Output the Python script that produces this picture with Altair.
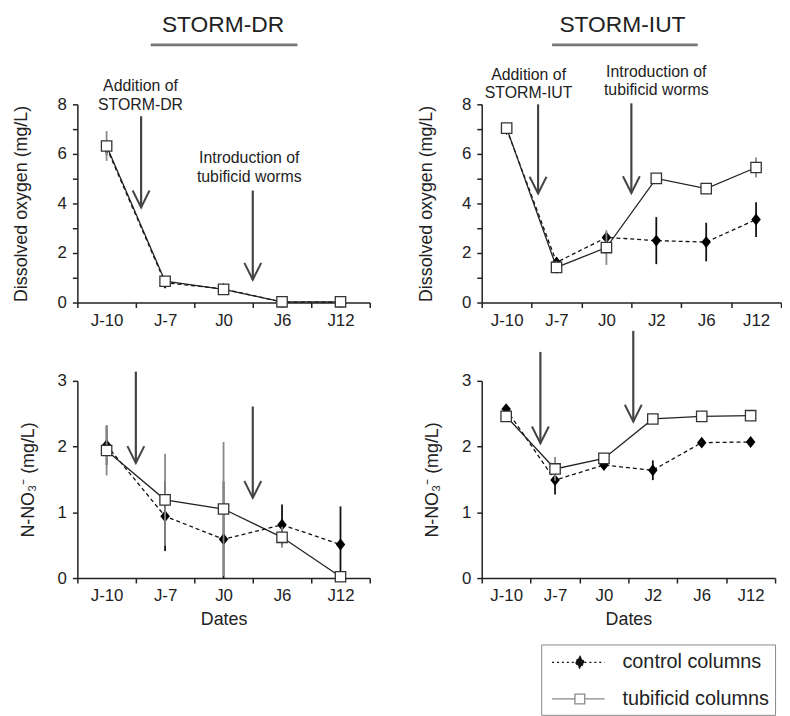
import altair as alt
import pandas as pd

FONT = "Liberation Sans"
INK = "#222222"

# ---------------- data ----------------
dates_dr = ["J-10", "J-7", "J0", "J6", "J12"]
dates_iut = ["J-10", "J-7", "J0", "J2", "J6", "J12"]
series_names = ["control columns", "tubificid columns"]

# Dissolved oxygen (mg/L)
do_dr_control = [6.25, 0.80, 0.55, 0.02, 0.02]
do_dr_control_err = [0.30, 0.10, 0.05, 0.00, 0.00]
do_dr_tubificid = [6.32, 0.86, 0.53, 0.03, 0.03]
do_dr_tubificid_err = [0.60, 0.15, 0.08, 0.00, 0.00]

do_iut_control = [7.00, 1.62, 2.63, 2.50, 2.44, 3.35]
do_iut_control_err = [0.10, 0.15, 0.10, 0.95, 0.78, 0.70]
do_iut_tubificid = [7.04, 1.42, 2.22, 5.01, 4.60, 5.45]
do_iut_tubificid_err = [0.15, 0.25, 0.70, 0.10, 0.08, 0.40]

# N-NO3- (mg/L)
no3_dr_control = [2.02, 0.94, 0.59, 0.81, 0.51]
no3_dr_control_err = [0.30, 0.53, 0.88, 0.31, 0.58]
no3_dr_tubificid = [1.94, 1.19, 1.05, 0.62, 0.02]
no3_dr_tubificid_err = [0.38, 0.70, 1.02, 0.16, 0.00]

no3_iut_control = [2.57, 1.49, 1.72, 1.64, 2.06, 2.07]
no3_iut_control_err = [0.05, 0.22, 0.05, 0.15, 0.03, 0.03]
no3_iut_tubificid = [2.46, 1.66, 1.82, 2.42, 2.46, 2.47]
no3_iut_tubificid_err = [0.05, 0.18, 0.03, 0.04, 0.03, 0.07]

# arrows: (date band, fraction across band, top, tip) in data units
arrows_do_dr = [("J-7", 0.09, 7.52, 3.84), ("J6", 0.0, 4.52, 0.92)]
arrows_do_iut = [("J-7", 0.13, 8.00, 4.40), ("J2", 0.0, 8.04, 4.42)]
arrows_no3_dr = [("J-7", 0.0, 3.14, 1.75), ("J6", 0.0, 2.61, 1.22)]
arrows_no3_iut = [("J-7", 0.2, 3.44, 2.05), ("J2", 0.1, 3.76, 2.38)]

# notes: (date band, fraction across band, y of first line, text)
notes_do_dr = [("J-7", 0.08, 8.72, "Addition of\nSTORM-DR"),
               ("J0", 0.94, 5.84, "Introduction of\ntubificid worms")]
notes_do_iut = [("J-10", 0.94, 9.20, "Addition of\nSTORM-IUT"),
                ("J2", 0.5, 9.32, "Introduction of\ntubificid worms")]

DIAMOND = "M 0 -1 L 0.8 0 L 0 1 L -0.8 0 Z"
ARROWHEAD = "M -0.5 -1 L 0 0 L 0.5 -1"
LEG_CTRL = ("M -0.64 0 L 1.49 0 M 2.33 0 L 4.18 0 "
            "M 1.91 -0.55 L 2.33 0 L 1.91 0.55 L 1.49 0 Z")
LEG_TUB = ("M -0.64 0 L 1.46 0 M 2.36 0 L 4.18 0 "
           "M 1.46 -0.45 L 2.36 -0.45 L 2.36 0.45 L 1.46 0.45 Z")


def panel(dates, ctrl, ctrl_err, tub, tub_err, ymax, ystep, ytitle, ytitle_pad,
          width, height, xtitle, arrows, notes, title=None, title_x=0,
          ul=(0, 0), legend=None):
    rows = []
    for name, vals, errs in [(series_names[0], ctrl, ctrl_err),
                             (series_names[1], tub, tub_err)]:
        for d, v, e in zip(dates, vals, errs):
            rows.append({"date": d, "series": name, "value": v,
                         "lo": max(v - e, 0.0), "hi": v + e})
    df = pd.DataFrame(rows)
    ctrl_df = df[df.series == series_names[0]]
    tub_df = df[df.series == series_names[1]]

    xscale = alt.Scale(type="band", domain=dates, paddingInner=0, paddingOuter=0)
    xaxis = alt.Axis(title=xtitle, tickBand="extent", labelAngle=0, tickSize=5,
                     labelPadding=5, labelFontSize=17, titleFontSize=18,
                     titlePadding=7, titleFontWeight="normal", grid=False,
                     domainWidth=1.5, tickWidth=1.5)
    yvals = [round(i * ystep, 2) for i in range(int(round(ymax / ystep)) + 1)]
    lab_every = 2 if ymax > 4 else 1
    yscale = alt.Scale(domain=[0, ymax], nice=False, zero=True)
    yaxis = alt.Axis(title=ytitle, values=yvals, format="d",
                     labelExpr=f"datum.value % {lab_every} === 0 ? datum.label : ''",
                     tickSize=5, labelPadding=6, labelFontSize=17, titleFontSize=18,
                     titlePadding=ytitle_pad, titleFontWeight="normal", grid=False,
                     domainWidth=1.5, tickWidth=1.5)

    def X(bp=0.5):
        return alt.X("date:N", scale=xscale, axis=xaxis, bandPosition=bp)

    def Y(field):
        return alt.Y(f"{field}:Q", scale=yscale, axis=yaxis)

    layers = []
    # control columns
    layers.append(alt.Chart(ctrl_df).mark_rule(color="#111", strokeWidth=1.8)
                  .encode(x=X(), y=Y("lo"), y2="hi:Q"))
    layers.append(alt.Chart(ctrl_df).mark_line(color="#111", strokeWidth=1.3,
                                               strokeDash=[4, 3])
                  .encode(x=X(), y=Y("value")))
    layers.append(alt.Chart(ctrl_df).mark_point(shape=DIAMOND, filled=True,
                                                color="#000", size=144, opacity=1)
                  .encode(x=X(), y=Y("value")))
    # tubificid columns
    layers.append(alt.Chart(tub_df).mark_rule(color="#888", strokeWidth=1.8)
                  .encode(x=X(), y=Y("lo"), y2="hi:Q"))
    layers.append(alt.Chart(tub_df).mark_line(color=INK, strokeWidth=1.3)
                  .encode(x=X(), y=Y("value")))
    layers.append(alt.Chart(tub_df).mark_point(shape="square", filled=True,
                                               fill="white", stroke="#333",
                                               strokeWidth=1.3, size=110, opacity=1)
                  .encode(x=X(), y=Y("value")))
    # arrows
    for d, bp, top, tip in arrows:
        adf = pd.DataFrame({"date": [d], "top": [top], "tip": [tip]})
        layers.append(alt.Chart(adf).mark_rule(color="#444", strokeWidth=2.2)
                      .encode(x=X(bp), y=Y("top"), y2="tip:Q"))
        layers.append(alt.Chart(adf).mark_point(shape=ARROWHEAD, filled=False,
                                                stroke="#444", strokeWidth=2,
                                                size=1156, opacity=1)
                      .encode(x=X(bp), y=Y("tip")))
    # notes
    for d, bp, yy, txt in notes:
        ndf = pd.DataFrame({"date": [d], "y": [yy], "txt": [txt]})
        layers.append(alt.Chart(ndf).mark_text(lineBreak="\n", align="center",
                                               baseline="middle", fontSize=16,
                                               lineHeight=19, font=FONT, color=INK)
                      .encode(x=X(bp), y=Y("y"), text="txt:N"))
    # panel heading with underline
    if title:
        tdf = pd.DataFrame({"t": [title]})
        layers.append(alt.Chart(tdf).mark_text(fontSize=23, font=FONT, color=INK,
                                               align="center", baseline="middle")
                      .encode(x=alt.value(title_x), y=alt.value(-80), text="t:N"))
        layers.append(alt.Chart(tdf).mark_rule(color="#777", strokeWidth=3)
                      .encode(x=alt.value(ul[0]), x2=alt.value(ul[1]),
                              y=alt.value(-60)))
    if legend is not None:
        leg = alt.Legend(orient="none", legendX=legend[0], legendY=legend[1],
                         title=None, symbolSize=484, symbolStrokeWidth=1.3,
                         labelFont=FONT, labelFontSize=20, labelColor=INK,
                         labelOffset=52, rowPadding=15, padding=6,
                         strokeColor="#888", symbolOpacity=1, labelLimit=0)
        layers.append(alt.Chart(df).mark_point(filled=True, opacity=0)
                      .encode(x=X(), y=Y("value"),
                              shape=alt.Shape("series:N", legend=leg,
                                              scale=alt.Scale(domain=series_names,
                                                              range=[LEG_CTRL, LEG_TUB])),
                              fill=alt.Fill("series:N", legend=leg,
                                            scale=alt.Scale(domain=series_names,
                                                            range=["#111", "white"])),
                              stroke=alt.Stroke("series:N", legend=leg,
                                                scale=alt.Scale(domain=series_names,
                                                                range=["#111", "#888"])),
                              strokeDash=alt.StrokeDash("series:N", legend=leg,
                                                        scale=alt.Scale(domain=series_names,
                                                                        range=[[2, 3], [1, 0]]))))
    return alt.layer(*layers).properties(width=width, height=height)


tl = panel(dates_dr, do_dr_control, do_dr_control_err, do_dr_tubificid,
           do_dr_tubificid_err, 8, 1, "Dissolved oxygen (mg/L)", 26.5, 295, 200,
           None, arrows_do_dr, notes_do_dr, "STORM-DR", 147, (74, 222))
tr = panel(dates_iut, do_iut_control, do_iut_control_err, do_iut_tubificid,
           do_iut_tubificid_err, 8, 1, "Dissolved oxygen (mg/L)", 26.5, 302, 200,
           None, arrows_do_iut, notes_do_iut, "STORM-IUT", 142, (71, 218))
bl = panel(dates_dr, no3_dr_control, no3_dr_control_err, no3_dr_tubificid,
           no3_dr_tubificid_err, 3, 0.5, "N-NO₃⁻ (mg/L)", 20, 295, 199,
           "Dates", arrows_no3_dr, [])
br = panel(dates_iut, no3_iut_control, no3_iut_control_err, no3_iut_tubificid,
           no3_iut_tubificid_err, 3, 0.5, "N-NO₃⁻ (mg/L)", 20, 296, 199,
           "Dates", arrows_no3_iut, [], legend=(468, 545))

chart = alt.concat(
    tl, tr, bl, br, columns=2,
    spacing=alt.RowColnumber(row=79, column=113), bounds="flush",
).properties(
    padding={"left": 5, "top": 3, "right": 0, "bottom": 0}
).configure_view(stroke=None).configure_axis(
    domainColor=INK, tickColor=INK, labelColor=INK, titleColor=INK,
    labelFont=FONT, titleFont=FONT
).configure_text(font=FONT)

chart.save("out.html", embed_options={"renderer": "svg", "actions": False})
